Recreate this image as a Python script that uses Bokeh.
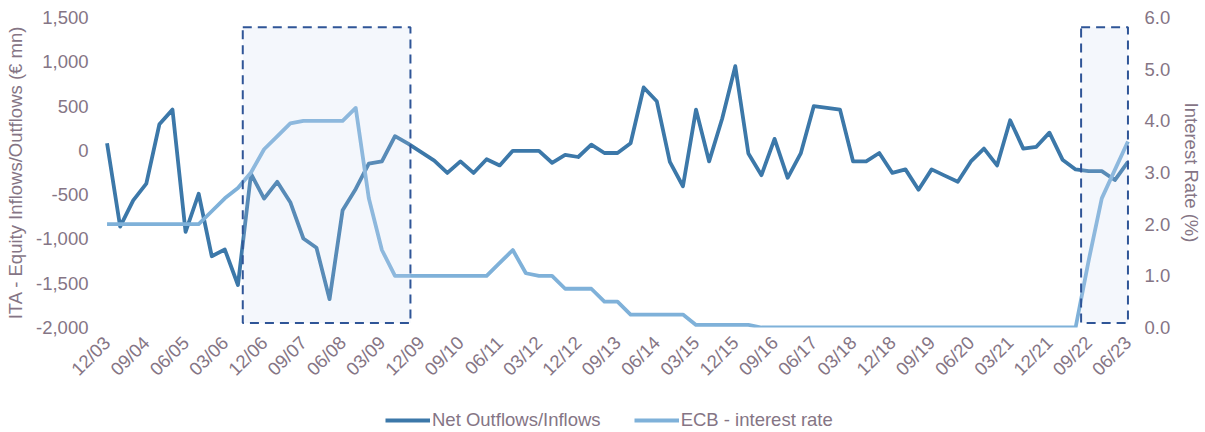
from math import pi

from bokeh.embed import file_html
from bokeh.layouts import column
from bokeh.models import (ColumnDataSource, FixedTicker, Legend, LegendItem,
                          LinearAxis, NumeralTickFormatter, Range1d)
from bokeh.plotting import figure
from bokeh.resources import INLINE

# Quarterly periods, 12/03 .. 06/23 (MM/YY)
periods = []
_y, _m = 2003, 12
for _ in range(79):
    periods.append(f"{_m:02d}/{_y % 100:02d}")
    _m += 3
    if _m > 12:
        _m -= 12
        _y += 1

# Net equity outflows/inflows (EUR mn)
net_flows = [
    80, -860, -565, -375, 295, 460, -920, -490, -1195, -1120,
    -1520, -265, -545, -355, -585, -995, -1100, -1680, -675, -435,
    -150, -125, 160, 75, -20, -115, -255, -125, -255, -100,
    -170, -5, -5, -5, -140, -50, -75, 65, -30, -30,
    80, 710, 555, -130, -405, 460, -125, 360, 950, -35,
    -280, 130, -310, -35, 500, 480, 460, -125, -125, -30,
    -255, -215, -445, -215, -285, -355, -125, 20, -170, 340,
    20, 40, 200, -105, -215, -235, -235, -335, -130,
]

# ECB interest rate (%)
ecb_rate = [
    2.0, 2.0, 2.0, 2.0, 2.0, 2.0, 2.0, 2.0, 2.25, 2.5,
    2.7, 3.0, 3.45, 3.7, 3.95, 4.0, 4.0, 4.0, 4.0, 4.25,
    2.5, 1.5, 1.0, 1.0, 1.0, 1.0, 1.0, 1.0, 1.0, 1.0,
    1.25, 1.5, 1.05, 1.0, 1.0, 0.75, 0.75, 0.75, 0.5, 0.5,
    0.25, 0.25, 0.25, 0.25, 0.25, 0.05, 0.05, 0.05, 0.05, 0.05,
    0.0, 0.0, 0.0, 0.0, 0.0, 0.0, 0.0, 0.0, 0.0, 0.0,
    0.0, 0.0, 0.0, 0.0, 0.0, 0.0, 0.0, 0.0, 0.0, 0.0,
    0.0, 0.0, 0.0, 0.0, 0.0, 1.3, 2.5, 3.05, 3.6,
]

# Highlighted tightening periods (in quarter index units)
shade_start = [10.37, 74.42]
shade_end = [23.18, 78.0]

idx = list(range(len(periods)))
src = ColumnDataSource(dict(x=idx, flows=net_flows, rate=ecb_rate))

TEXT = "#857585"
FONT = "Liberation Sans"
FS = "18.5px"
FLOW_COLOR = "#3C78A9"
RATE_COLOR = "#7FB1D9"

p = figure(
    width=1205, height=390,
    x_range=Range1d(-0.5, 78.5), y_range=Range1d(-2000, 1500),
    output_backend="svg", toolbar_location=None,
    min_border_left=100, min_border_right=68,
    min_border_top=17, min_border_bottom=63,
)
p.extra_y_ranges = {"rate": Range1d(0, 6)}
p.outline_line_color = None
p.grid.grid_line_color = None

p.line("x", "flows", source=src, line_color=FLOW_COLOR, line_width=3.8,
       line_join="round")
p.line("x", "rate", source=src, y_range_name="rate",
       line_color=RATE_COLOR, line_width=3.8, line_join="round")

# Shaded boxes drawn over the lines
p.quad(left=shade_start, right=shade_end, top=[1390] * 2, bottom=[-1950] * 2,
       fill_color="#C8D6EE", fill_alpha=0.2,
       line_color="#2F5597", line_width=2, line_dash="9 6")


def style_axis(ax):
    ax.axis_line_color = None
    ax.major_tick_line_color = None
    ax.minor_tick_line_color = None
    ax.major_tick_out = 0
    ax.major_tick_in = 0
    ax.minor_tick_out = 0
    ax.minor_tick_in = 0
    ax.major_label_text_color = TEXT
    ax.major_label_text_font = FONT
    ax.major_label_text_font_size = FS
    ax.axis_label_text_color = TEXT
    ax.axis_label_text_font = FONT
    ax.axis_label_text_font_size = FS
    ax.axis_label_text_font_style = "normal"


xa = p.xaxis[0]
style_axis(xa)
xa.ticker = FixedTicker(ticks=list(range(0, len(periods), 3)))
xa.major_label_overrides = {i: periods[i] for i in range(0, len(periods), 3)}
xa.major_label_orientation = pi / 4
xa.major_label_standoff = 12

ya = p.yaxis[0]
style_axis(ya)
ya.ticker = FixedTicker(ticks=list(range(-2000, 1501, 500)))
ya.formatter = NumeralTickFormatter(format="0,0")
ya.axis_label = "ITA - Equity Inflows/Outflows (€ mn)"
ya.major_label_standoff = 12
ya.axis_label_standoff = 7

ra = LinearAxis(y_range_name="rate", axis_label="Interest Rate (%)")
style_axis(ra)
ra.ticker = FixedTicker(ticks=[0, 1, 2, 3, 4, 5, 6])
ra.formatter = NumeralTickFormatter(format="0.0")
ra.major_label_standoff = 10
ra.axis_label_standoff = 8
p.add_layout(ra, "right")

# Legend strip underneath the chart (frame aligned with the chart's frame)
nan = float("nan")
leg = figure(
    width=1205, height=42, x_range=Range1d(0, 1), y_range=Range1d(0, 1),
    x_axis_type=None, y_axis_type=None, output_backend="svg",
    toolbar_location=None, min_border=0,
)
leg.outline_line_color = None
leg.grid.grid_line_color = None
k_flow = leg.line(x=[nan], y=[nan], line_color=FLOW_COLOR, line_width=3.8)
k_rate = leg.line(x=[nan], y=[nan], line_color=RATE_COLOR, line_width=3.8)
legend = Legend(
    items=[LegendItem(label="Net Outflows/Inflows", renderers=[k_flow]),
           LegendItem(label="ECB - interest rate", renderers=[k_rate])],
    orientation="horizontal", location=(285, 1),
    label_text_font=FONT, label_text_font_size=FS, label_text_color=TEXT,
    glyph_width=45, glyph_height=20, label_standoff=2, spacing=33,
    padding=0, margin=0, border_line_color=None, background_fill_alpha=0,
)
leg.add_layout(legend, "center")

page = column(p, leg, spacing=0)
open("out.html", "w").write(file_html(page, INLINE))
